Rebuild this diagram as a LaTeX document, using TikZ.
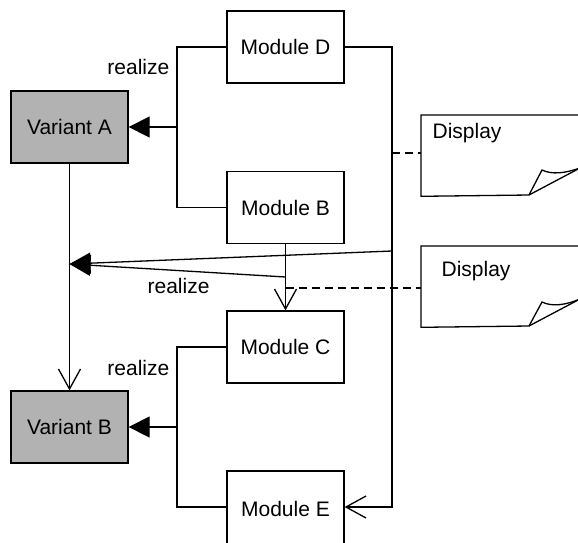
\documentclass[tikz,border=0pt]{standalone}
\usepackage{fontspec}
\setmainfont{Liberation Sans}
\usetikzlibrary{arrows.meta}
\definecolor{vgray}{RGB}{178,178,178}
\begin{document}
\begin{tikzpicture}[x=1pt,y=-1pt, line width=1.3pt,
  box/.style={draw, minimum width=117pt, minimum height=72pt, inner sep=0pt, font=\fontsize{21}{25}\selectfont},
  variant/.style={box, fill=vgray},
  txt/.style={inner sep=0pt, font=\fontsize{21}{25}\selectfont},
  notebox/.style={draw=none, inner sep=0pt, minimum width=159pt, minimum height=80pt, anchor=north west},
  fillarrow/.style={-{Triangle[length=21pt,width=21pt]}},
  openarrow/.style={-{Straight Barb[length=20pt,width=22pt]}},
  dashlink/.style={dash pattern=on 8pt off 5pt}
]
\useasboundingbox (0,0) rectangle (578,542);

% modules and variants
\node[box] (D) at (285.5,47) {Module D};
\node[box] (B) at (285.5,207.5) {Module B};
\node[box] (C) at (285.5,347) {Module C};
\node[box, minimum height=76pt] (E) at (285.5,509) {Module E};
\node[variant] (VA) at (69.5,127) {Variant A};
\node[variant] (VB) at (69.5,427) {Variant B};

% notes
\node[notebox] (N1) at (421,115) {};
\node[notebox] (N2) at (421,246) {};
\draw (N1.north west) -- (N1.north east) -- (580,168) -- (529,195) -- (N1.south west) -- cycle;
\draw (529,195) -- (542,170) .. controls (552,175) and (566,173) .. (580,168);
\draw (N2.north west) -- (N2.north east) -- (580,299) -- (529,326) -- (N2.south west) -- cycle;
\draw (529,326) -- (542,302) .. controls (552,307) and (566,305) .. (580,299);
\node[txt, anchor=base west] (T1) at (432,138) {Display};
\node[txt, anchor=base west] (T2) at (441,276) {Display};

% realize labels
\node[txt, anchor=base east] (L1) at (170,74) {realize};
\node[txt, anchor=base west] (L2) at (147,293) {realize};
\node[txt, anchor=base east] (L3) at (170,375) {realize};

% coordinates
\coordinate (K1) at (177,127);
\coordinate (K2) at (177,427);
\coordinate (R1) at (392,47);
\coordinate (R2) at (392,507);
\coordinate (P) at (69.5,264);
\coordinate (J1) at (392,251);
\coordinate (J2) at (285.5,277);
\coordinate (J3) at (392,153);
\coordinate (J4) at (285.5,288);

% upper realize bracket
\draw (D.west) -| (K1) |- (B.west);
\draw[fillarrow] (K1) -- (VA.east);
% lower realize bracket
\draw (C.west) -| (K2) |- (R2 -| E.west);
\draw[fillarrow] (K2) -- (VB.east);

% right long connector
\draw[openarrow] (D.east) -- (R1) -- (R2) -- (R2 -| E.east);

% variant A to variant B
\draw[openarrow] (VA.south) -- (VB.north);
% module B to module C
\draw[openarrow] (B.south) -- (C.north);

% middle realize
\draw[fillarrow] (J1) -- (P);
\draw[fillarrow] (J2) -- (P);

% dashed note links
\draw[dashlink] (J3) -- (J3 -| N1.west);
\draw[dashlink] (J4) -- (J4 -| N2.west);
\end{tikzpicture}
\end{document}
